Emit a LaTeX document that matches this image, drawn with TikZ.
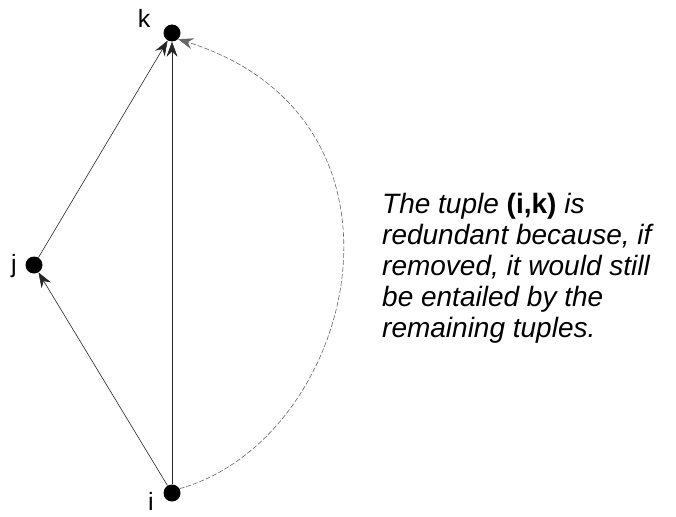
\documentclass[tikz,border=0pt]{standalone}
\usepackage{fontspec}
\setmainfont{Liberation Sans}
\usetikzlibrary{arrows.meta}
\begin{document}
\begin{tikzpicture}[x=1pt,y=-1pt,
  dot/.style={circle,fill=black,inner sep=0pt,minimum size=17pt},
  lbl/.style={font=\fontsize{25}{25}\selectfont,inner sep=0pt},
  edge/.style={draw=black!85,line width=0.6pt,-{Stealth[length=15pt,width=11pt,inset=5pt]}},
  dedge/.style={edge,dash pattern=on 5pt off 2pt,draw=black!60}]
\useasboundingbox[fill=white] (0,0) rectangle (676,516);
\node[dot] (k) at (172,33) {};
\node[dot] (j) at (34,265) {};
\node[dot] (i) at (172,493) {};
\node[lbl] (kl) at (144,18) {k};
\node[lbl] (jl) at (14,266) {j};
\node[lbl] (il) at (151,501) {i};
\draw[edge] (i) -- (j);
\draw[edge] (j) -- (k.-120);
\draw[edge] (i) -- (k);
\draw[dedge] (i.30) .. controls (355,440) and (435,120) .. (k.-45);
\node[font=\fontsize{28}{31}\selectfont\itshape,align=left,anchor=north west,inner sep=0pt] (txt) at (382,193)
{The tuple {\upshape\bfseries (i,k)} is\\redundant because, if\\removed, it would still\\be entailed by the\\remaining tuples.};
\end{tikzpicture}
\end{document}
